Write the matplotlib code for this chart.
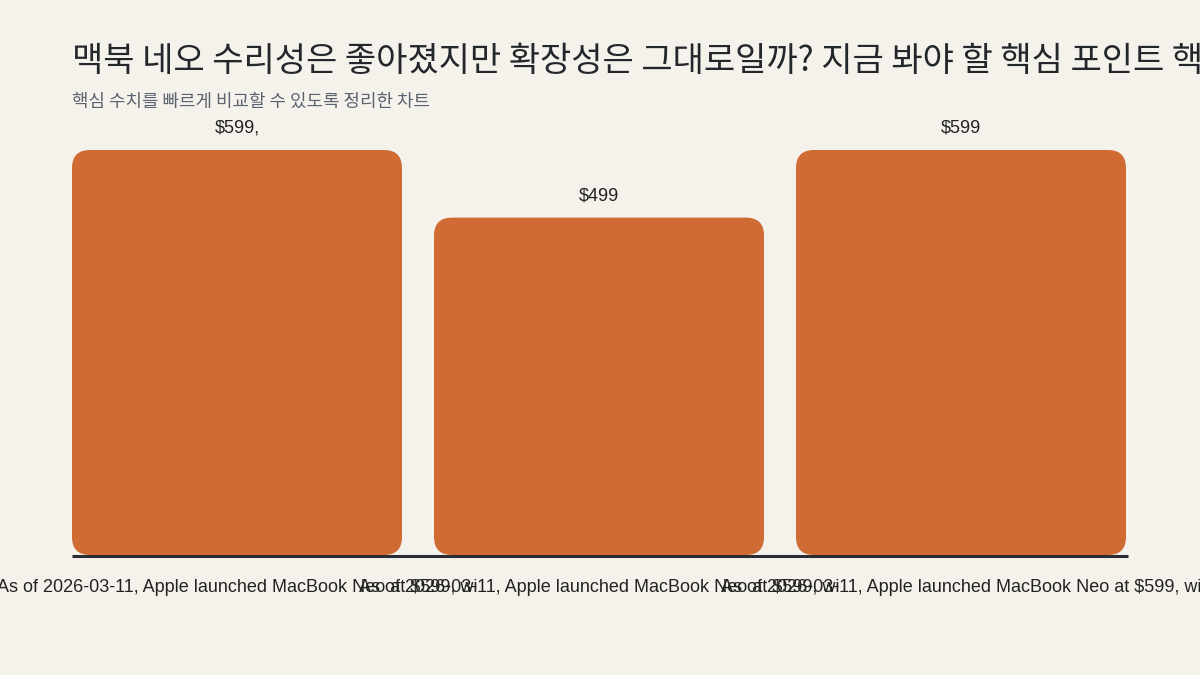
import matplotlib
matplotlib.use("Agg")
import matplotlib.pyplot as plt
from matplotlib.patches import FancyBboxPatch

plt.rcParams['font.family'] = ['Liberation Sans', 'Noto Sans CJK KR', 'DejaVu Sans']

title = "맥북 네오 수리성은 좋아졌지만 확장성은 그대로일까? 지금 봐야 할 핵심 포인트 핵심 수치"
subtitle = "핵심 수치를 빠르게 비교할 수 있도록 정리한 차트"
categories = [
    "As of 2026-03-11, Apple launched MacBook Neo at $599, wi",
    "As of 2026-03-11, Apple launched MacBook Neo at $599, wi",
    "As of 2026-03-11, Apple launched MacBook Neo at $599, wi",
]
values = [599, 499, 599]
value_labels = ["$599,", "$499", "$599"]

BG = "#F5F2EC"
BAR = "#CF6B33"
W, H = 1200, 675

fig = plt.figure(figsize=(12, 6.75), dpi=100, facecolor=BG)
ax_left, ax_right = 72 / W, 1128 / W
ax_bottom, ax_top = (H - 555) / H, (H - 150) / H
ax = fig.add_axes([ax_left, ax_bottom, ax_right - ax_left, ax_top - ax_bottom])
ax.set_facecolor(BG)

n = len(values)
spacing_px = 362.0
bar_px = 330.0
xmin = -(bar_px / spacing_px) / 2
ax.set_xlim(xmin, xmin + 1056 / spacing_px)
ax.set_ylim(0, max(values))
bw = bar_px / spacing_px

x_per_px = (1056 / spacing_px) / 1056
y_per_px = max(values) / 405.0
r_px = 18
for i, v in enumerate(values):
    p = FancyBboxPatch((i - bw / 2 + r_px * x_per_px, r_px * y_per_px),
                       bw - 2 * r_px * x_per_px, v - 2 * r_px * y_per_px,
                       boxstyle=f"round,pad={r_px * x_per_px},rounding_size={r_px * x_per_px}",
                       mutation_aspect=y_per_px / x_per_px,
                       facecolor=BAR, edgecolor="none", zorder=3)
    ax.add_patch(p)
    ax.text(i, v + 22 * y_per_px, value_labels[i], ha="center", va="center",
            fontsize=13, color="#222222", zorder=4)

ax.axhline(-1.2 * y_per_px, color="#2A2D33", lw=2.2, zorder=2, clip_on=False,
           solid_capstyle="butt")

for s in ax.spines.values():
    s.set_visible(False)
ax.set_yticks([])
ax.set_xticks(range(n))
ax.set_xticklabels(categories, fontsize=13, color="#222222")
ax.tick_params(axis="x", length=0, pad=17)

fig.text(72 / W, 1 - 61 / H, title, fontsize=24.5, color="#23262B",
         ha="left", va="center", family=['Noto Sans CJK KR', 'DejaVu Sans'])
fig.text(72 / W, 1 - 102 / H, subtitle, fontsize=12.9, color="#5B6270",
         ha="left", va="center", family=['Noto Sans CJK KR', 'DejaVu Sans'])

fig.savefig("out.png", dpi=100, facecolor=BG)
